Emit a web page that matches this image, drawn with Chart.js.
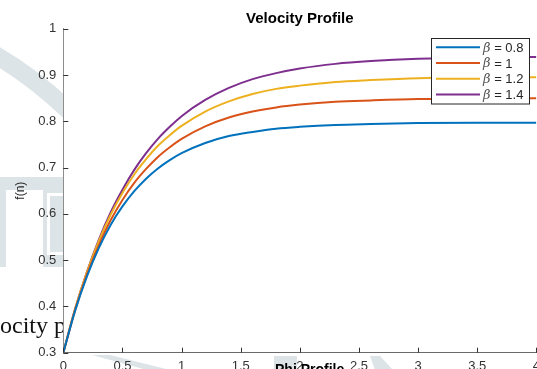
<!DOCTYPE html>
<html><head><meta charset="utf-8">
<script src="https://cdn.jsdelivr.net/npm/chart.js@4.4.1/dist/chart.umd.min.js"></script>
<style>html,body{margin:0;padding:0;overflow:hidden;background:#fff;width:537px;height:369px}canvas{display:block}</style>
</head><body><canvas id="c" width="546" height="380"></canvas>
<script>
// ---- data ----
const xValues = [0,0.1,0.2,0.3,0.4,0.5,0.6,0.7,0.8,0.9,1.0,1.2,1.4,1.6,1.8,2.0,2.3,2.6,3.0,3.5,4.0];
const beta08 = [0.300,0.391,0.465,0.526,0.576,0.616,0.649,0.676,0.698,0.716,0.731,0.753,0.768,0.777,0.784,0.788,0.792,0.794,0.796,0.797,0.797];
const beta10 = [0.300,0.392,0.469,0.532,0.586,0.630,0.667,0.697,0.723,0.744,0.762,0.789,0.808,0.821,0.830,0.836,0.842,0.845,0.848,0.849,0.850];
const beta12 = [0.300,0.395,0.474,0.541,0.598,0.645,0.685,0.718,0.747,0.770,0.790,0.821,0.843,0.859,0.870,0.877,0.885,0.889,0.893,0.895,0.895];
const beta14 = [0.300,0.395,0.475,0.544,0.603,0.652,0.695,0.731,0.762,0.788,0.811,0.846,0.872,0.891,0.904,0.914,0.924,0.930,0.935,0.938,0.939];
const seriesLabels = ['β = 0.8','β = 1','β = 1.2','β = 1.4'];
const seriesColors = ['#0072BD','#D95319','#EDB120','#7E2F8E'];
const xTickValues = [0,0.5,1,1.5,2,2.5,3,3.5,4];
const yTickValues = [0.3,0.4,0.5,0.6,0.7,0.8,0.9,1];
const chartTitle = 'Velocity Profile';
const yTitle = 'f(n)';
const bgCaption = 'Velocity profile';
const bgHeading = 'Phi Profile';

const seriesList = [beta08, beta10, beta12, beta14];
const datasets = seriesList.map((s, i) => ({
  label: seriesLabels[i],
  data: xValues.map((x, j) => ({x: x, y: s[j]})),
  borderColor: seriesColors[i],
  backgroundColor: seriesColors[i],
  borderWidth: 2,
  pointRadius: 0,
  fill: false,
  cubicInterpolationMode: 'monotone'
}));

const fmt = v => String(Math.round(v * 10) / 10);

const bgPlugin = {
  id: 'bgPlugin',
  beforeDraw(chart) {
    const ctx = chart.ctx, a = chart.chartArea;
    ctx.save();
    ctx.fillStyle = '#fff';
    ctx.fillRect(0, 0, chart.width, chart.height);
    const g = '#dde4e7';
    // curved band top-left
    ctx.strokeStyle = g; ctx.lineWidth = 18;
    ctx.beginPath(); ctx.moveTo(-10, 52); ctx.quadraticCurveTo(30, 74, 70, 112); ctx.stroke();
    // left bracket shapes
    ctx.fillStyle = g;
    ctx.fillRect(0, 177, 63, 13);
    ctx.fillRect(0, 177, 6, 90);
    ctx.fillRect(43, 177, 20, 90);
    ctx.fillStyle = '#fff';
    ctx.fillRect(47, 193, 3, 62);
    ctx.fillRect(47, 193, 16, 3);
    ctx.fillRect(47, 252, 16, 3);
    // bottom shapes
    ctx.fillStyle = g;
    ctx.beginPath(); ctx.moveTo(92, 355); ctx.lineTo(110, 355); ctx.lineTo(170, 370); ctx.lineTo(147, 370); ctx.closePath(); ctx.fill();
    ctx.fillRect(274, 356, 23, 14);
    ctx.beginPath(); ctx.moveTo(370, 356); ctx.lineTo(380, 356); ctx.lineTo(393, 370); ctx.lineTo(375, 370); ctx.closePath(); ctx.fill();
    // caption text from the page behind
    ctx.font = '24px "Liberation Serif", "Times New Roman", serif';
    ctx.fillStyle = '#111';
    ctx.textBaseline = 'alphabetic';
    const off = ctx.measureText('Vel').width;
    ctx.fillText(bgCaption, -off, 333);
    // plot area white
    ctx.fillStyle = '#fff';
    ctx.fillRect(a.left, a.top, a.right - a.left, a.bottom - a.top);
    ctx.restore();
  },
  afterDraw(chart) {
    const ctx = chart.ctx, a = chart.chartArea;
    const xs = chart.scales.x, ys = chart.scales.y;
    ctx.save();
    // inward ticks
    ctx.strokeStyle = '#333'; ctx.lineWidth = 1;
    ctx.beginPath();
    yTickValues.forEach(v => { const p = Math.round(ys.getPixelForValue(v)) + 0.5; ctx.moveTo(a.left, p); ctx.lineTo(a.left + 5, p); });
    xTickValues.forEach(v => { const p = Math.round(xs.getPixelForValue(v)) + 0.5; ctx.moveTo(p, a.bottom); ctx.lineTo(p, a.bottom - 5); });
    ctx.stroke();
    // title
    ctx.fillStyle = '#000';
    ctx.font = 'bold 15px "Liberation Sans", Arial, sans-serif';
    ctx.textAlign = 'center'; ctx.textBaseline = 'alphabetic';
    ctx.fillText(chartTitle, (a.left + a.right) / 2, 22.7);
    // legend
    const bx = 431.5, by = 38.5, bw = 98, bh = 65.5;
    ctx.fillStyle = '#fff'; ctx.fillRect(bx, by, bw, bh);
    ctx.strokeStyle = '#262626'; ctx.lineWidth = 1; ctx.strokeRect(bx, by, bw, bh);
    seriesLabels.forEach((lab, i) => {
      const y = 47.3 + i * 15.7;
      ctx.strokeStyle = seriesColors[i]; ctx.lineWidth = 2;
      ctx.beginPath(); ctx.moveTo(436, y); ctx.lineTo(480, y); ctx.stroke();
      ctx.textAlign = 'left'; ctx.textBaseline = 'middle';
      ctx.font = 'italic 13px "DejaVu Serif", serif';
      ctx.fillStyle = '#555';
      const b = lab.charAt(0);
      ctx.fillText(b, 483, y + 1);
      const w = ctx.measureText(b).width;
      ctx.font = '13px "Liberation Sans", Arial, sans-serif';
      ctx.fillStyle = '#262626';
      ctx.fillText(lab.slice(1), 483 + w, y + 1);
    });
    // heading from the page behind
    ctx.fillStyle = '#000';
    ctx.font = 'bold 14px "Liberation Sans", Arial, sans-serif';
    ctx.textAlign = 'left'; ctx.textBaseline = 'alphabetic';
    ctx.fillText(bgHeading, 275, 374);
    ctx.restore();
  }
};

new Chart(document.getElementById('c'), {
  type: 'line',
  data: { datasets: datasets },
  options: {
    responsive: false,
    animation: false,
    devicePixelRatio: 1,
    layout: { padding: { top: 28.7, right: 6.5, left: 0, bottom: 0 } },
    plugins: { legend: { display: false }, title: { display: false }, tooltip: { enabled: false } },
    scales: {
      x: {
        type: 'linear', min: 0, max: 4,
        afterBuildTicks: s => { s.ticks = xTickValues.map(v => ({value: v})); },
        ticks: { callback: fmt, padding: 6, color: '#333', font: { size: 13, family: '"Liberation Sans", Arial, sans-serif' }, maxRotation: 0, autoSkip: false },
        grid: { display: false, drawTicks: false },
        border: { display: true, color: '#6a6a6a', width: 1 },
        afterFit: s => { s.height = 380 - 352.7; }
      },
      y: {
        type: 'linear', min: 0.3, max: 1,
        afterBuildTicks: s => { s.ticks = yTickValues.map(v => ({value: v})); },
        ticks: { callback: fmt, padding: 7, color: '#333', font: { size: 13, family: '"Liberation Sans", Arial, sans-serif' }, autoSkip: false },
        grid: { display: false, drawTicks: false },
        border: { display: true, color: '#8c8c8c', width: 1 },
        title: { display: true, text: yTitle, color: '#262626', font: { size: 12, family: '"Liberation Sans", Arial, sans-serif' }, padding: { top: 13.8, bottom: 0 } },
        afterFit: s => { s.width = 63.3; }
      }
    }
  },
  plugins: [bgPlugin]
});
</script>
</body></html>
